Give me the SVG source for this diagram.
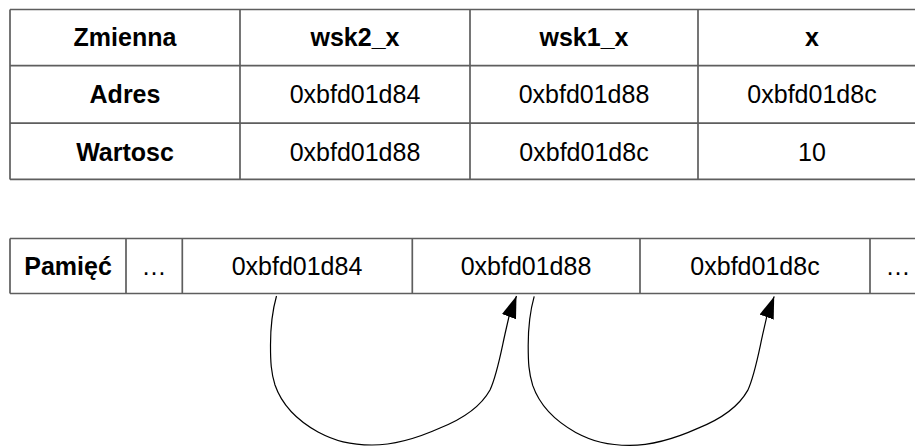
<svg xmlns="http://www.w3.org/2000/svg" width="915" height="446" viewBox="0 0 915 446">
<defs>
<style>
.grid{stroke:#5e5e5e;stroke-width:1.7;fill:none}
.t{font-family:"Liberation Sans",Arial,sans-serif;font-size:25px;text-anchor:middle;fill:#000}
.b{font-weight:bold}
.conn{stroke:#000;stroke-width:1.2;fill:none}
</style>
<marker id="ah" viewBox="0 0 22 15" refX="22" refY="7.5" markerWidth="22" markerHeight="15" markerUnits="userSpaceOnUse" orient="auto">
<path d="M0,0 L22,7.5 L0,15 z" fill="#000"/>
</marker>
</defs>
<rect width="915" height="446" fill="#fff"/>
<g id="table-variables">
<path class="grid" d="M10,9.5 H926 M10,65.7 H926 M10,123.2 H926 M10,179.4 H926 M10,9.5 V179.4 M240,9.5 V179.4 M470,9.5 V179.4 M698,9.5 V179.4"/>
<text class="t b" x="125" y="46">Zmienna</text>
<text class="t b" x="355" y="46">wsk2_x</text>
<text class="t b" x="584" y="46">wsk1_x</text>
<text class="t b" x="812" y="46">x</text>
<text class="t b" x="125" y="103">Adres</text>
<text class="t" x="355" y="103">0xbfd01d84</text>
<text class="t" x="584" y="103">0xbfd01d88</text>
<text class="t" x="812" y="103">0xbfd01d8c</text>
<text class="t b" x="125" y="160.5">Wartosc</text>
<text class="t" x="355" y="160.5">0xbfd01d88</text>
<text class="t" x="584" y="160.5">0xbfd01d8c</text>
<text class="t" x="812" y="160.5">10</text>
</g>
<g id="memory">
<path class="grid" d="M10,238.5 H926 M10,293.5 H926 M10,238.5 V293.5 M126,238.5 V293.5 M182.3,238.5 V293.5 M412.3,238.5 V293.5 M640,238.5 V293.5 M870,238.5 V293.5"/>
<g id="mem-label"><text class="t b" x="68" y="275">Pamięć</text></g>
<g id="mem-dots-left"><text class="t" x="154" y="275">…</text></g>
<g id="mem-84"><text class="t" x="297" y="275">0xbfd01d84</text></g>
<g id="mem-88"><text class="t" x="526" y="275">0xbfd01d88</text></g>
<g id="mem-8c"><text class="t" x="755" y="275">0xbfd01d8c</text></g>
<g id="mem-dots-right"><text class="t" x="898" y="275">…</text></g>
</g>
<g id="connectors">
<path id="c1" class="conn" marker-end="url(#ah)" d="M276.5,296 C272,312 270.5,325 270.5,345 C270.5,362 271,372 275,385 C283,408 300,422 318,432 C335,441 350,445 372,445 C395,445 420,437 440,428 C460,420 480,408 490,390 C497,375 501,352 505,334 L509,316.5 L516.5,296"/>
<path id="c2" class="conn" marker-end="url(#ah)" transform="translate(257.7,0.4)" d="M276.5,296 C272,312 270.5,325 270.5,345 C270.5,362 271,372 275,385 C283,408 300,422 318,432 C335,441 350,445 372,445 C395,445 420,437 440,428 C460,420 480,408 490,390 C497,375 501,352 505,334 L509,316.5 L516.5,296"/>
</g>
</svg>
